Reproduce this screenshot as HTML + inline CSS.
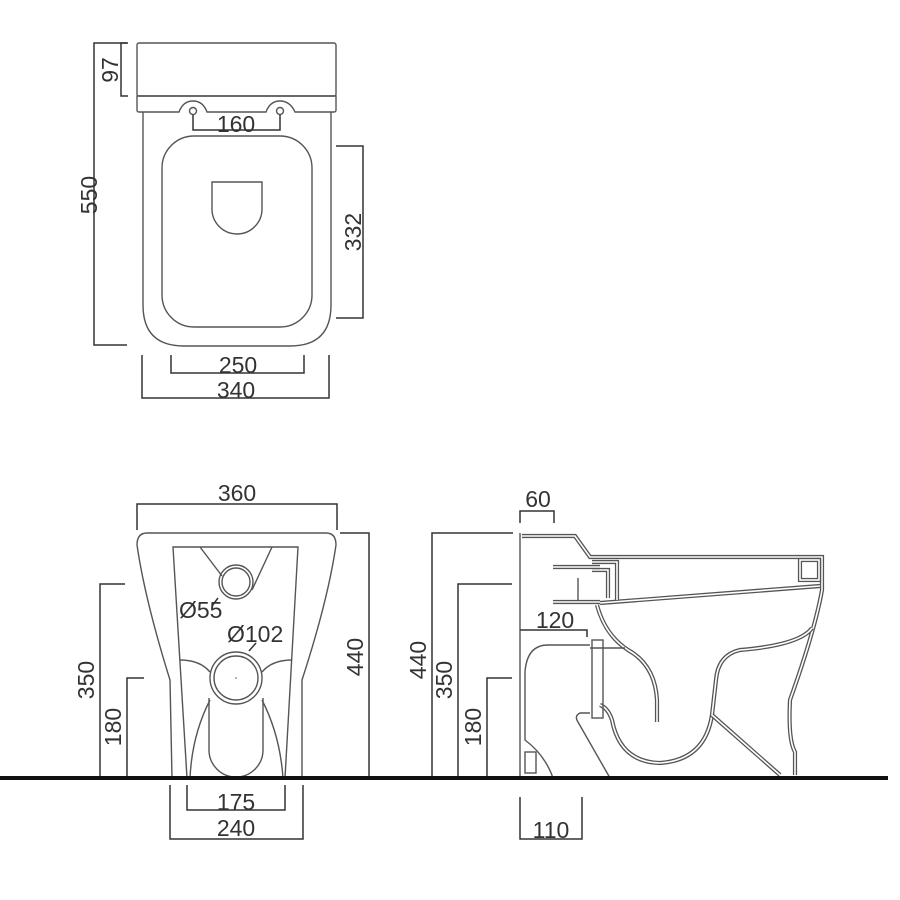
<!DOCTYPE html>
<html><head><meta charset="utf-8"><style>
html,body{margin:0;padding:0;background:#fff}
svg{display:block}
text{font-family:"Liberation Sans",Arial,sans-serif;font-size:23px;fill:#333}
.l{fill:none;stroke:#555;stroke-width:1.4}
.d{fill:none;stroke:#555;stroke-width:4.2}
.w{fill:none;stroke:#fff;stroke-width:1.6}
.dm{fill:none;stroke:#333;stroke-width:1.5}
</style></head><body>
<svg width="900" height="900" viewBox="0 0 900 900" xmlns="http://www.w3.org/2000/svg">
<!-- TOP VIEW -->
<rect class="l" x="137" y="43" width="199" height="53" rx="2"/>
<path class="l" d="M137,96 H336 V110 Q336,112 334,112 H295 Q290,101 280,101 Q270,101 266,112 H207 Q203,101 193,101 Q183,101 179,112 H139 Q137,112 137,110 Z"/>
<circle class="l" cx="193" cy="111" r="3.5"/>
<circle class="l" cx="280" cy="111" r="3.5"/>
<path class="l" d="M143,112 V305 Q143,346 184,346 H290 Q331,346 331,305 V112"/>
<rect class="l" x="162" y="136" width="150" height="191" rx="32"/>
<path class="l" d="M212,182 H262 V209 A25,25 0 0 1 212,209 Z"/>
<!-- top dims -->
<path class="dm" d="M193,115 V130 H280 V115"/>
<text x="236" y="132" text-anchor="middle">160</text>
<path class="dm" d="M128,43 H121 V96 H128"/>
<text transform="translate(118,70) rotate(-90)" text-anchor="middle">97</text>
<path class="dm" d="M127,43 H94 V345 H127"/>
<text transform="translate(97,195) rotate(-90)" text-anchor="middle">550</text>
<path class="dm" d="M336,146 H363 V318 H336"/>
<text transform="translate(361,232) rotate(-90)" text-anchor="middle">332</text>
<path class="dm" d="M171,355 V373 H304 V355"/>
<text x="238" y="373" text-anchor="middle">250</text>
<path class="dm" d="M142,355 V398 H329 V355"/>
<text x="236" y="398" text-anchor="middle">340</text>

<!-- FRONT VIEW -->
<path class="l" d="M172,778 L170,680 Q145,600 137,545 Q137,533 147,533 H326 Q336,533 336,545 Q328,600 302,680 L302,778"/>
<path class="l" d="M187,778 L173,547 H298 L285,778"/>
<path class="l" d="M200,547 L222,576 M272,547 L252,590"/>
<circle class="l" cx="236" cy="582" r="17"/>
<circle class="l" cx="236" cy="582" r="14"/>
<circle class="l" cx="236" cy="678" r="26"/>
<circle class="l" cx="236" cy="678" r="22"/>
<circle cx="236" cy="678" r="0.8" fill="#555"/>
<path class="l" d="M209,698 V750 A27,27 0 0 0 263,750 V698"/>
<path class="l" d="M180,660 Q200,660 210,672 M292,660 Q272,660 262,672"/>
<path class="l" d="M210,700 Q192,735 190,778 M262,700 Q280,735 283,778"/>
<path class="dm" d="M218,598 L212,606 M256,643 L249,651"/>
<text x="179" y="618">Ø55</text>
<text x="227" y="642">Ø102</text>
<!-- front dims -->
<path class="dm" d="M137,530 V504 H337 V530"/>
<text x="237" y="501" text-anchor="middle">360</text>
<path class="dm" d="M125,584 H100 V778"/>
<text transform="translate(100,680) rotate(-90)" text-anchor="middle" dy="-6">350</text>
<path class="dm" d="M144,678 H127 V778"/>
<text transform="translate(127,727) rotate(-90)" text-anchor="middle" dy="-6">180</text>
<path class="dm" d="M340,533 H369 V778"/>
<text transform="translate(369,657) rotate(-90)" text-anchor="middle" dy="-6">440</text>
<path class="dm" d="M187,785 V810 H285 V785"/>
<text x="236" y="810" text-anchor="middle">175</text>
<path class="dm" d="M170,785 V839 H303 V785"/>
<text x="236" y="836" text-anchor="middle">240</text>

<!-- SIDE VIEW -->
<path class="l" d="M520,533 V778"/>
<g>
<path class="d" d="M522,536 H575 L590,557 H822 L822,590 Q815,630 790,700 Q788,740 795,752 V775"/>
<path class="w" d="M522,536 H575 L590,557 H822 L822,590 Q815,630 790,700 Q788,740 795,752 V775"/>
<rect class="d" x="800" y="560" width="19" height="20"/>
<rect class="w" x="800" y="560" width="19" height="20"/>
<path class="d" d="M600,603 L820,586"/>
<path class="w" d="M600,603 L820,586"/>
<path class="d" d="M592,562 H617 V600 M592,570 H608 V598"/>
<path class="w" d="M592,562 H617 V600 M592,570 H608 V598"/>
<path class="d" d="M553,567 H600 M553,602 H600"/>
<path class="w" d="M553,567 H600 M553,602 H600"/>
<path class="d" d="M597,605 Q605,635 628,650 Q655,665 657,700 L657,722"/>
<path class="w" d="M597,605 Q605,635 628,650 Q655,665 657,700 L657,722"/>
<path class="d" d="M812,628 Q800,645 740,650 Q718,655 716,680 L712,715 Q705,760 660,763 Q620,762 612,720 Q608,708 600,705"/>
<path class="w" d="M812,628 Q800,645 740,650 Q718,655 716,680 L712,715 Q705,760 660,763 Q620,762 612,720 Q608,708 600,705"/>
<path class="d" d="M712,715 L780,775"/>
<path class="w" d="M712,715 L780,775"/>
</g>
<path class="l" d="M578,578 V600"/>
<path class="l" d="M590,645 H548 Q527,645 525,672 V740 Q545,755 553,778"/>
<path class="l" d="M590,713 H580 Q574,716 578,722 L610,778"/>
<path class="l" d="M590,648 H625"/>
<rect class="l" x="592" y="640" width="11" height="78"/>
<rect class="l" x="525" y="752" width="11" height="21"/>
<!-- side dims -->
<path class="dm" d="M520,523 V511 H554 V523"/>
<text x="538" y="507" text-anchor="middle">60</text>
<path class="dm" d="M513,533 H432 V778"/>
<text transform="translate(432,660) rotate(-90)" text-anchor="middle" dy="-6">440</text>
<path class="dm" d="M512,584 H458 V778"/>
<text transform="translate(458,680) rotate(-90)" text-anchor="middle" dy="-6">350</text>
<path class="dm" d="M512,678 H487 V778"/>
<text transform="translate(487,727) rotate(-90)" text-anchor="middle" dy="-6">180</text>
<path class="dm" d="M520,630 H587 V637"/>
<text x="555" y="628" text-anchor="middle">120</text>
<path class="dm" d="M520,797 V839 H582 V797"/>
<text x="551" y="838" text-anchor="middle">110</text>

<!-- ground -->
<rect x="0" y="776" width="888" height="4" fill="#111"/>
</svg>
</body></html>
